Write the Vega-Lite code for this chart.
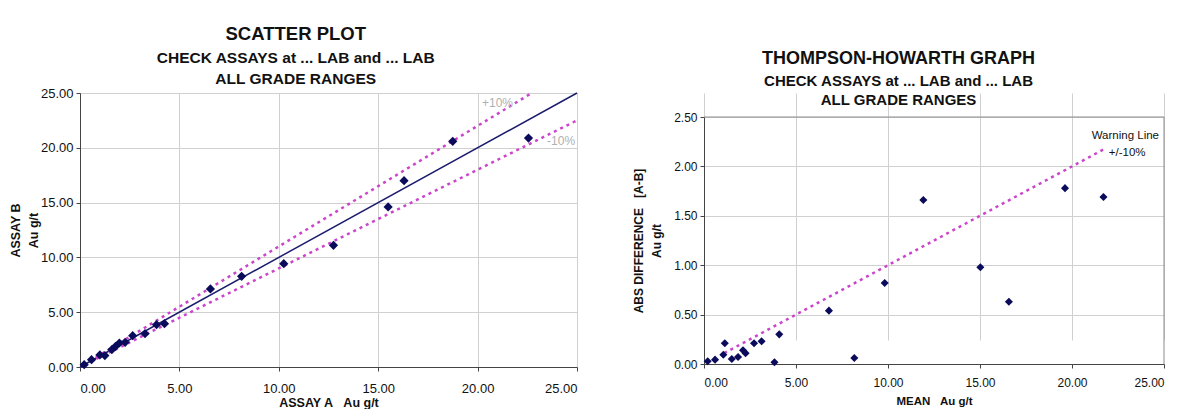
{
  "$schema": "https://vega.github.io/schema/vega-lite/v6.json",
  "padding": {"left": 8, "top": 24, "right": 0, "bottom": 0},
  "spacing": 49,
  "background": "white",
  "config": {
    "font": "Liberation Sans",
    "view": {"stroke": "#8c8c8c", "strokeWidth": 1},
    "axis": {
      "grid": true, "gridColor": "#d0d0d0", "gridWidth": 1,
      "domainColor": "#444", "tickColor": "#444", "tickSize": 4,
      "labelColor": "#111", "titleColor": "#111", "titleFontWeight": "bold",
      "labelFont": "Liberation Sans", "titleFont": "Liberation Sans"
    },
    "title": {"color": "#111", "subtitleColor": "#111", "font": "Liberation Sans", "subtitleFont": "Liberation Sans"}
  },
  "datasets": {
    "scatter": [
      {"assay_a": 0.21, "assay_b": 0.21},
      {"assay_a": 0.58, "assay_b": 0.67},
      {"assay_a": 1.0, "assay_b": 1.1},
      {"assay_a": 1.25, "assay_b": 1.04},
      {"assay_a": 1.6, "assay_b": 1.58},
      {"assay_a": 1.79, "assay_b": 1.89},
      {"assay_a": 1.98, "assay_b": 2.19},
      {"assay_a": 2.27, "assay_b": 2.25},
      {"assay_a": 2.65, "assay_b": 2.86},
      {"assay_a": 3.27, "assay_b": 3.04},
      {"assay_a": 3.85, "assay_b": 3.86},
      {"assay_a": 4.25, "assay_b": 3.95},
      {"assay_a": 6.56, "assay_b": 7.12},
      {"assay_a": 8.13, "assay_b": 8.27},
      {"assay_a": 10.25, "assay_b": 9.43},
      {"assay_a": 12.75, "assay_b": 11.1},
      {"assay_a": 15.5, "assay_b": 14.6},
      {"assay_a": 16.3, "assay_b": 17.0},
      {"assay_a": 18.75, "assay_b": 20.59},
      {"assay_a": 22.56, "assay_b": 20.89}
    ],
    "th": [
      {"mean": 0.2, "diff": 0.027},
      {"mean": 0.6, "diff": 0.044},
      {"mean": 1.05, "diff": 0.094},
      {"mean": 1.13, "diff": 0.21},
      {"mean": 1.51, "diff": 0.05},
      {"mean": 1.85, "diff": 0.07},
      {"mean": 2.12, "diff": 0.14},
      {"mean": 2.26, "diff": 0.11},
      {"mean": 2.72, "diff": 0.21},
      {"mean": 3.13, "diff": 0.23},
      {"mean": 3.83, "diff": 0.017},
      {"mean": 4.09, "diff": 0.3},
      {"mean": 6.79, "diff": 0.54},
      {"mean": 8.17, "diff": 0.06},
      {"mean": 9.82, "diff": 0.82},
      {"mean": 11.92, "diff": 1.66},
      {"mean": 15.02, "diff": 0.98},
      {"mean": 16.57, "diff": 0.63},
      {"mean": 19.62, "diff": 1.78},
      {"mean": 21.71, "diff": 1.69}
    ]
  },
  "hconcat": [
    {
      "width": 497,
      "height": 274,
      "title": {
        "text": "SCATTER PLOT",
        "subtitle": ["CHECK ASSAYS at ... LAB and ... LAB", "ALL GRADE RANGES"],
        "fontSize": 18.5, "fontWeight": "bold",
        "subtitleFontSize": 15.5, "subtitleFontWeight": "bold",
        "subtitleLineHeight": 21, "subtitlePadding": 7,
        "offset": 0, "frame": "bounds", "anchor": "middle"
      },
      "encoding": {
        "x": {"field": "x", "type": "quantitative",
              "scale": {"domain": [0, 25], "nice": false},
              "axis": {"values": [0, 5, 10, 15, 20, 25], "format": ".2f", "labelFontSize": 13, "labelPadding": 11,
                       "title": "ASSAY A\u00a0\u00a0\u00a0Au g/t", "titleFontSize": 12.5, "titlePadding": 1}},
        "y": {"field": "y", "type": "quantitative",
              "scale": {"domain": [0, 25], "nice": false},
              "axis": {"values": [0, 5, 10, 15, 20, 25], "format": ".2f", "labelFontSize": 13, "labelPadding": 3,
                       "title": ["ASSAY B", "Au g/t"], "titleFontSize": 12.5, "titleLineHeight": 18, "titlePadding": 0}}
      },
      "layer": [
        {
          "data": {"values": [{"x": 0, "y": 0}, {"x": 25, "y": 25}]},
          "mark": {"type": "line", "color": "#1c1c6e", "strokeWidth": 1.5}
        },
        {
          "data": {"values": [
            {"band": "+10%", "x": 0.5, "y": 0.55},
            {"band": "+10%", "x": 22.7, "y": 24.97},
            {"band": "-10%", "x": 0.5, "y": 0.45},
            {"band": "-10%", "x": 25, "y": 22.5}
          ]},
          "mark": {"type": "line", "color": "#cc44cc", "strokeWidth": 2.5, "strokeDash": [3, 4]},
          "encoding": {"detail": {"field": "band"}}
        },
        {
          "data": {"name": "scatter"},
          "mark": {"type": "point", "shape": "diamond", "filled": true, "color": "#0b0b5c", "opacity": 1, "size": 85},
          "encoding": {
            "x": {"field": "assay_a", "type": "quantitative"},
            "y": {"field": "assay_b", "type": "quantitative"}
          }
        },
        {
          "data": {"values": [
            {"label": "+10%", "x": 21.0, "y": 24.1},
            {"label": "-10%", "x": 24.2, "y": 20.6}
          ]},
          "mark": {"type": "text", "color": "#b0b0b0", "fontSize": 12, "align": "center", "baseline": "middle"},
          "encoding": {"text": {"field": "label"}}
        }
      ]
    },
    {
      "width": 460,
      "height": 271,
      "view": {"stroke": null},
      "title": {
        "text": "THOMPSON-HOWARTH GRAPH",
        "subtitle": ["CHECK ASSAYS at ... LAB and ... LAB", "ALL GRADE RANGES"],
        "fontSize": 18, "fontWeight": "bold",
        "subtitleFontSize": 15, "subtitleFontWeight": "bold",
        "subtitleLineHeight": 19, "subtitlePadding": 6,
        "offset": -15, "frame": "bounds", "anchor": "middle"
      },
      "encoding": {
        "x": {"field": "x", "type": "quantitative",
              "scale": {"domain": [0, 25], "nice": false},
              "axis": {"values": [0, 5, 10, 15, 20, 25], "format": ".2f", "labelFontSize": 12, "labelPadding": 9,
                       "title": "MEAN\u00a0\u00a0\u00a0Au g/t", "titleFontSize": 11.5, "titlePadding": 7}},
        "y": {"field": "y", "type": "quantitative",
              "scale": {"domain": [0, 2.5], "nice": false, "range": [271, 24]},
              "axis": {"values": [0, 0.5, 1, 1.5, 2, 2.5], "format": ".2f", "labelFontSize": 12, "labelPadding": 3,
                       "title": ["ABS DIFFERENCE\u00a0\u00a0\u00a0[A-B]", "Au g/t"], "titleFontSize": 12, "titleLineHeight": 18, "titlePadding": 10}}
      },
      "layer": [
        {
          "data": {"values": [
            {"edge": "top", "x": 0, "y": 2.5, "x2": 25, "y2": 2.5},
            {"edge": "right", "x": 25, "y": 0, "x2": 25, "y2": 2.5}
          ]},
          "mark": {"type": "rule", "color": "#8c8c8c", "strokeWidth": 1},
          "encoding": {
            "x2": {"field": "x2"},
            "y2": {"field": "y2"}
          }
        },
        {
          "data": {"values": [{"x": 1.1, "y": 0.11}, {"x": 21.8, "y": 2.18}]},
          "mark": {"type": "line", "color": "#cc44cc", "strokeWidth": 2.5, "strokeDash": [3, 4]}
        },
        {
          "data": {"name": "th"},
          "mark": {"type": "point", "shape": "diamond", "filled": true, "color": "#0b0b5c", "opacity": 1, "size": 65},
          "encoding": {
            "x": {"field": "mean", "type": "quantitative"},
            "y": {"field": "diff", "type": "quantitative"}
          }
        },
        {
          "data": {"values": [
            {"label": "Warning Line", "x": 22.9, "y": 2.31},
            {"label": "+/-10%", "x": 23.0, "y": 2.14}
          ]},
          "mark": {"type": "text", "color": "#111", "fontSize": 11.5, "align": "center", "baseline": "middle"},
          "encoding": {"text": {"field": "label"}}
        }
      ]
    }
  ]
}
